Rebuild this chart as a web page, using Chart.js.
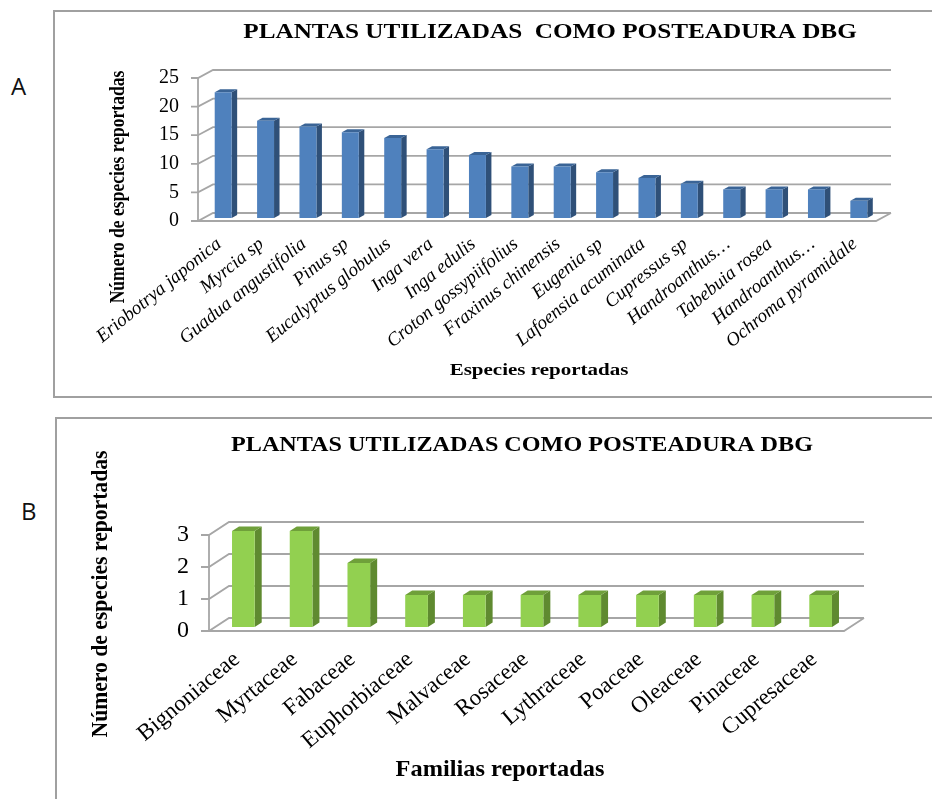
<!DOCTYPE html>
<html>
<head>
<meta charset="utf-8">
<title>Plantas utilizadas como posteadura</title>
<script src="https://cdn.jsdelivr.net/npm/chart.js@4/dist/chart.umd.min.js"></script>
<style>
  html, body { margin: 0; padding: 0; background: #fff; overflow: hidden; }
  #page { position: relative; width: 932px; height: 799px; overflow: hidden; }
  canvas { position: absolute; }
  .frame { position: absolute; box-sizing: border-box; border: 2px solid #a0a0a0; }
  .tag { position: absolute; font: 24px "Open Sans", sans-serif; color: #111; }
</style>
</head>
<body>
<div id="page">
  <div class="frame" style="left:53px;top:10px;width:900px;height:388px;"></div>
  <div class="frame" style="left:55px;top:417px;width:900px;height:400px;"></div>
  <div class="tag" style="left:11px;top:69px;">A</div>
  <div class="tag" style="left:21px;top:494px;">B</div>
  <canvas id="chartA" width="932" height="400" style="left:0;top:0;"></canvas>
  <canvas id="chartB" width="932" height="399" style="left:0;top:400px;"></canvas>
</div>
<script>
// Datos
const especies = ["Eriobotrya japonica", "Myrcia sp", "Guadua angustifolia", "Pinus sp",
  "Eucalyptus globulus", "Inga vera", "Inga edulis", "Croton gossypiifolius",
  "Fraxinus chinensis", "Eugenia sp", "Lafoensia acuminata", "Cupressus sp",
  "Handroanthus…", "Tabebuia rosea", "Handroanthus…", "Ochroma pyramidale"];
const especiesValores = [22, 17, 16, 15, 14, 12, 11, 9, 9, 8, 7, 6, 5, 5, 5, 3];
const especiesTicks = [0, 5, 10, 15, 20, 25];

const familias = ["Bignoniaceae", "Myrtaceae", "Fabaceae", "Euphorbiaceae", "Malvaceae",
  "Rosaceae", "Lythraceae", "Poaceae", "Oleaceae", "Pinaceae", "Cupresaceae"];
const familiasValores = [3, 3, 2, 1, 1, 1, 1, 1, 1, 1, 1];
const familiasTicks = [0, 1, 2, 3];

const tituloA = "PLANTAS UTILIZADAS  COMO POSTEADURA DBG";
const tituloB = "PLANTAS UTILIZADAS COMO POSTEADURA DBG";
const ejeY = "Número de especies reportadas";

// Caja 3D: paredes y piso detras de las barras, caras laterales sobre ellas
const caja3d = {
  id: "caja3d",
  beforeDatasetsDraw(chart, args, o) {
    const { ctx, chartArea: a, scales: { y } } = chart;
    ctx.save();
    ctx.strokeStyle = "#a6a6a6";
    ctx.lineWidth = o.line;
    y.ticks.forEach(t => {
      const py = y.getPixelForValue(t.value);
      ctx.beginPath();
      ctx.moveTo(a.left - o.tick, py);
      ctx.lineTo(a.left, py);
      ctx.lineTo(a.left + o.dx, py - o.dy);
      ctx.lineTo(a.right + o.dx, py - o.dy);
      ctx.stroke();
    });
    ctx.beginPath();
    ctx.moveTo(a.left, a.top);
    ctx.lineTo(a.left, a.bottom);
    ctx.lineTo(a.right, a.bottom);
    ctx.lineTo(a.right + o.dx, a.bottom - o.dy);
    ctx.stroke();
    ctx.restore();
  },
  beforeDatasetDraw(chart, args, o) {
    const { ctx } = chart;
    ctx.save();
    ctx.translate(o.barX, -o.barY);
    chart.getDatasetMeta(args.index).data.forEach(bar => {
      const left = bar.x - bar.width / 2, right = bar.x + bar.width / 2;
      ctx.fillStyle = o.side;
      ctx.beginPath();
      ctx.moveTo(right, bar.y);
      ctx.lineTo(right + o.sideW, bar.y - o.topH);
      ctx.lineTo(right + o.sideW, bar.base - o.topH);
      ctx.lineTo(right, bar.base);
      ctx.fill();
      ctx.fillStyle = o.top;
      ctx.beginPath();
      ctx.moveTo(left, bar.y);
      ctx.lineTo(left + o.sideW, bar.y - o.topH);
      ctx.lineTo(right + o.sideW, bar.y - o.topH);
      ctx.lineTo(right, bar.y);
      ctx.fill();
    });
  },
  afterDatasetDraw(chart) {
    chart.ctx.restore();
  }
};

// Titulos colocados a mano sobre el lienzo
const textos = {
  id: "textos",
  afterDraw(chart, args, o) {
    const { ctx } = chart;
    o.items.forEach(t => {
      ctx.save();
      ctx.translate(t.x, t.y);
      if (t.rot) ctx.rotate(t.rot);
      if (t.sx) ctx.scale(t.sx, 1);
      ctx.font = t.font;
      ctx.fillStyle = "#000";
      ctx.textAlign = "center";
      ctx.textBaseline = "middle";
      ctx.fillText(t.text, 0, 0);
      ctx.restore();
    });
  }
};

function grafica(id, labels, values, ticks, o) {
  return new Chart(document.getElementById(id), {
    type: "bar",
    data: {
      labels,
      datasets: [{ data: values, backgroundColor: o.front, categoryPercentage: 1, barPercentage: o.barPct }]
    },
    plugins: [caja3d, textos],
    options: {
      responsive: false,
      animation: false,
      layout: { padding: { top: o.top, right: 932 - o.right, bottom: 0, left: 0 } },
      plugins: {
        legend: { display: false },
        tooltip: { enabled: false },
        caja3d: o.box,
        textos: { items: o.texts }
      },
      scales: {
        x: {
          grid: { display: false },
          border: { display: false },
          afterFit(s) { s.height = o.bottomH; },
          ticks: {
            autoSkip: false, minRotation: o.rot, maxRotation: o.rot, padding: o.xPad,
            labelOffset: o.xShift,
            color: "#000",
            font: { family: "Liberation Serif", size: o.xSize, style: o.xStyle }
          }
        },
        y: {
          min: 0, max: ticks[ticks.length - 1],
          grid: { display: false },
          border: { display: false },
          afterFit(s) { s.width = o.left; },
          afterBuildTicks(s) { s.ticks = ticks.map(value => ({ value })); },
          ticks: {
            padding: o.yPad, color: "#000",
            font: { family: "Liberation Serif", size: o.ySize }
          }
        }
      }
    }
  });
}

grafica("chartA", especies, especiesValores, especiesTicks, {
  front: "#4f81bd", barPct: 0.4, top: 78, left: 198, right: 876, bottomH: 179,
  rot: 39, xPad: 4, xShift: 0, xSize: 19, xStyle: "italic", yPad: 11, ySize: 20,
  box: { dx: 15, dy: 8, tick: 7, line: 1.8, barX: 4, barY: 3, sideW: 5.5, topH: 3, side: "#2f5078", top: "#3a6496" },
  texts: [
    { text: tituloA, x: 550, y: 33, sx: 1.2, font: "bold 21px 'Liberation Serif'" },
    { text: ejeY, x: 119, y: 187, rot: -Math.PI / 2, sx: 0.835, font: "bold 21px 'Liberation Serif'" },
    { text: "Especies reportadas", x: 539, y: 370, sx: 1.2, font: "bold 17.5px 'Liberation Serif'" }
  ]
});

grafica("chartB", familias, familiasValores, familiasTicks, {
  front: "#92d050", barPct: 0.393, top: 135, left: 209, right: 844, bottomH: 168,
  rot: 40, xPad: 7, xShift: -1, xSize: 23, xStyle: "normal", yPad: 12, ySize: 24,
  box: { dx: 20, dy: 13, tick: 8, line: 1.8, barX: 5.5, barY: 4, sideW: 7, topH: 4.5, side: "#5f8a30", top: "#6fa03a" },
  texts: [
    { text: tituloB, x: 522, y: 46, sx: 1.15, font: "bold 21px 'Liberation Serif'" },
    { text: ejeY, x: 101, y: 194, rot: -Math.PI / 2, sx: 0.94, font: "bold 23px 'Liberation Serif'" },
    { text: "Familias reportadas", x: 500, y: 370, sx: 1.06, font: "bold 23px 'Liberation Serif'" }
  ]
});
</script>
</body>
</html>
